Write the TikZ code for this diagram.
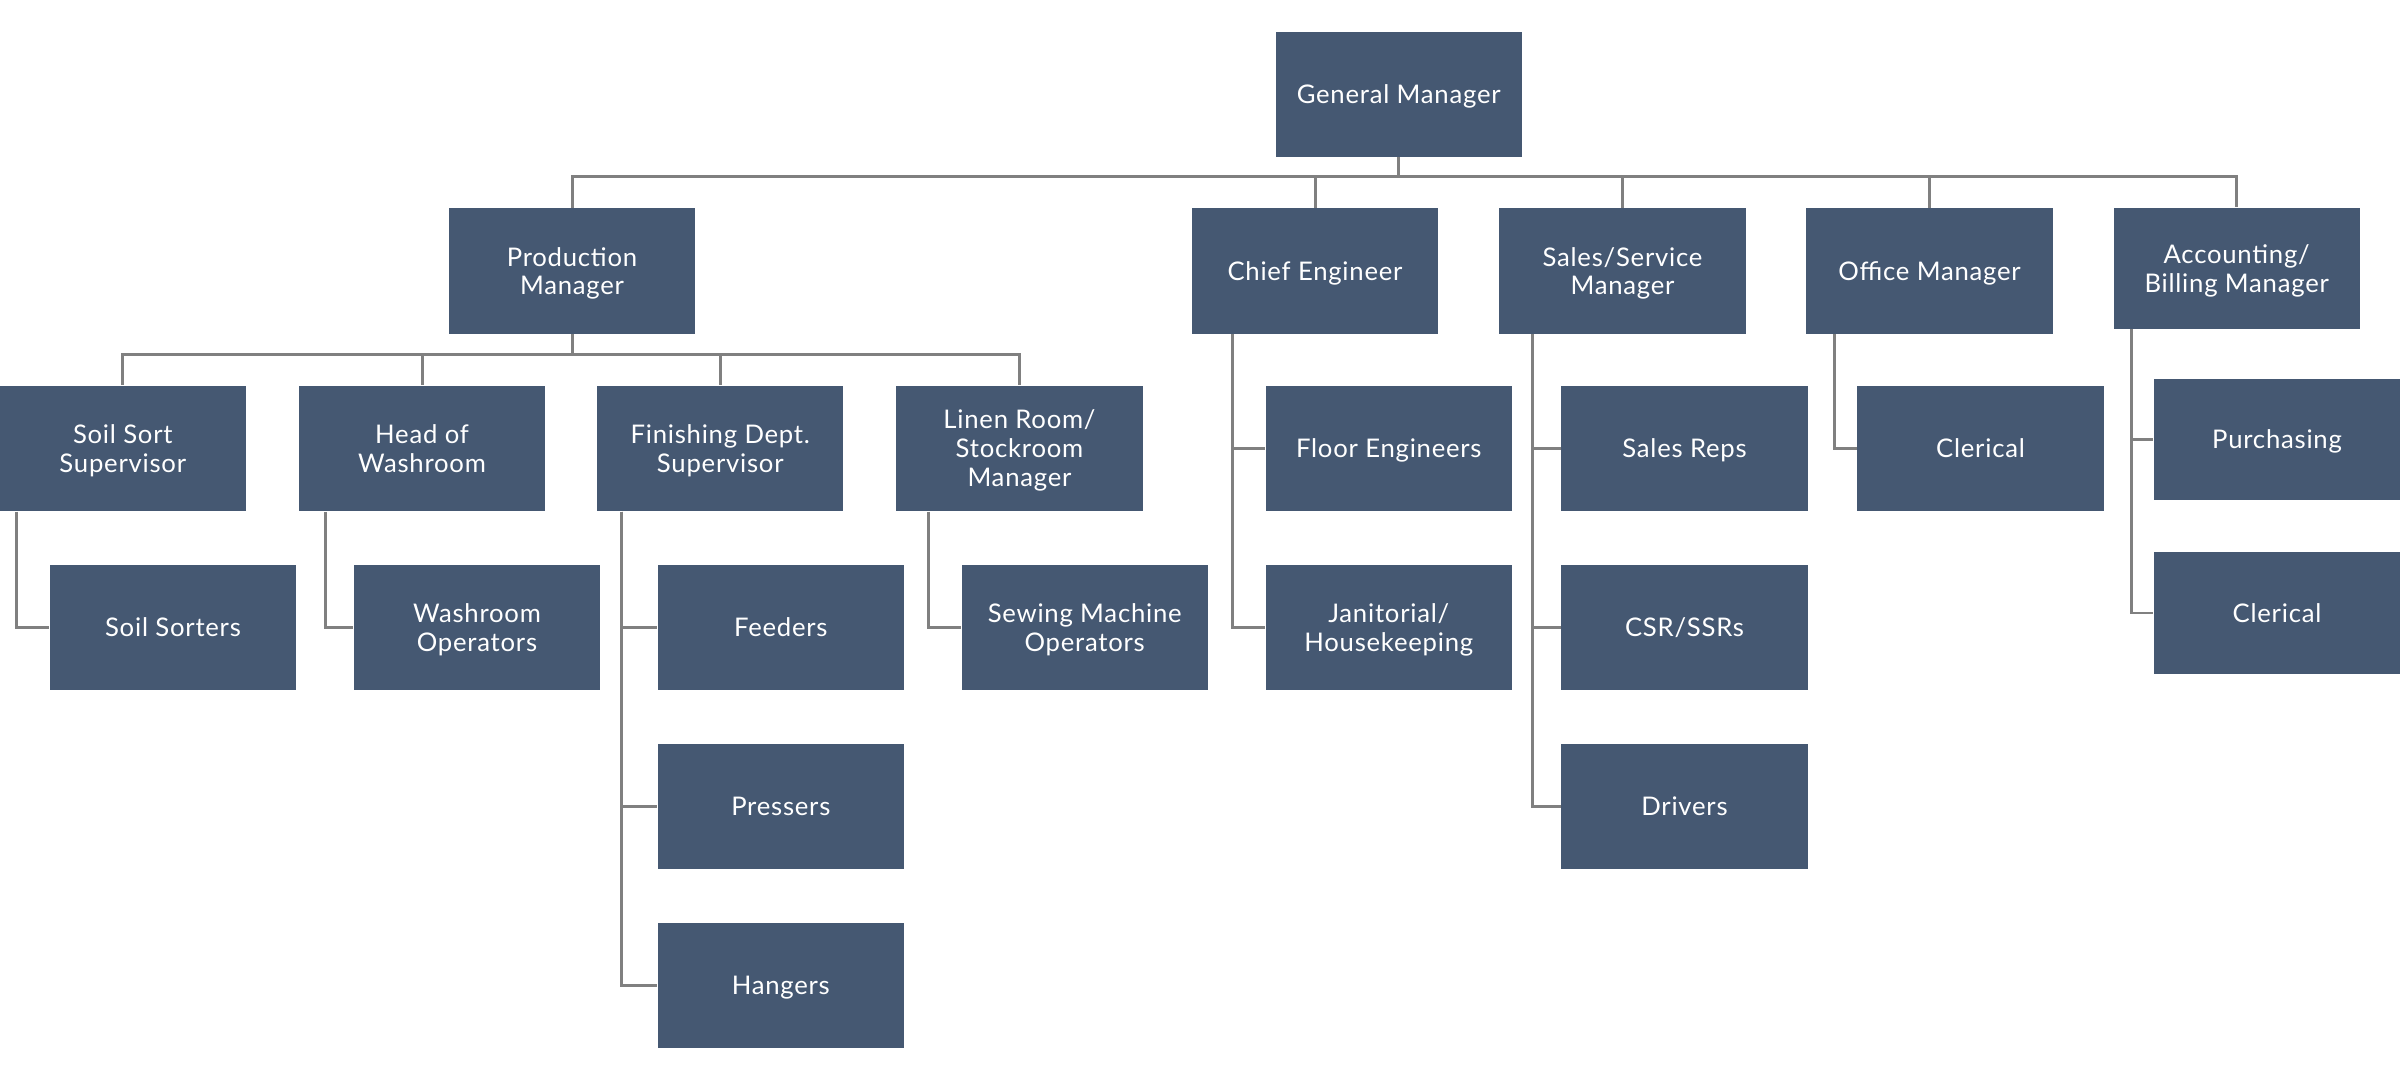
\documentclass[tikz,border=0pt]{standalone}
\usepackage{fontspec}
\setmainfont{Lato}[LetterSpace=3]
\definecolor{boxblue}{RGB}{69,88,114}
\definecolor{linegrey}{RGB}{128,128,128}

\begin{document}
\begin{tikzpicture}[x=0.01cm,y=-0.01cm]
\tikzset{post/.style={fill=boxblue,text=white,minimum width=2.46cm,minimum height=1.25cm,
    inner sep=0pt,align=center,text depth=0pt,font=\fontsize{7.3}{8.2}\selectfont},
  link/.style={draw=linegrey,line width=0.85pt}}
\useasboundingbox (0,0) rectangle (2400,1080);

\node[post] (gm) at (1398.7,94.2) {General Manager};

\node[post] (prod) at (572,271) {Production\\Manager};
\node[post] (chief) at (1315,271) {Chief Engineer};
\node[post] (sales) at (1622.5,271) {Sales/Service\\Manager};
\node[post] (office) at (1929.5,271) {Office Manager};
\node[post,minimum height=1.21cm] (acct) at (2236.7,268.2) {Accounting/\\Billing Manager};

\node[post] (soilsup) at (122.8,448.3) {Soil Sort\\Supervisor};
\node[post] (washhead) at (422,448.3) {Head of\\Washroom};
\node[post] (finish) at (720.3,448.3) {Finishing Dept.\\Supervisor};
\node[post] (linen) at (1019.5,448.3) {Linen Room/\\Stockroom\\Manager};

\node[post] (sorters) at (173,627.5) {Soil Sorters};
\node[post] (washops) at (477,627.5) {Washroom\\Operators};
\node[post] (feeders) at (780.8,627.5) {Feeders};
\node[post] (pressers) at (780.8,806.5) {Pressers};
\node[post] (hangers) at (780.8,985.5) {Hangers};
\node[post] (sewing) at (1084.7,627.5) {Sewing Machine\\Operators};

\node[post] (floor) at (1388.8,448.3) {Floor Engineers};
\node[post] (janitor) at (1388.8,627.5) {Janitorial/\\Housekeeping};
\node[post] (reps) at (1684.5,448.3) {Sales Reps};
\node[post] (csr) at (1684.5,627.5) {CSR/SSRs};
\node[post] (drivers) at (1684.5,806.5) {Drivers};
\node[post] (clerk) at (1980.5,448.3) {Clerical};
\node[post,minimum height=1.21cm] (purch) at (2277,439.5) {Purchasing};
\node[post,minimum height=1.21cm] (clerk2) at (2277,613) {Clerical};

\foreach \n in {prod,chief,sales,office,acct}
  \draw[link] (gm.south) -- ++(0,19) -| (\n.north);
\foreach \n in {soilsup,washhead,finish,linen}
  \draw[link] (prod.south) -- ++(0,19.8) -| (\n.north);
\foreach \p/\c/\dx in {soilsup/sorters/17.7,washhead/washops/27,finish/feeders/25,
    finish/pressers/25,finish/hangers/25,linen/sewing/32.6,chief/floor/41,chief/janitor/41,
    sales/reps/34,sales/csr/34,sales/drivers/34,office/clerk/28.3,acct/purch/18.3,acct/clerk2/18.3}
  \draw[link] (\p.south west) ++(\dx,0) |- (\c.west);

\end{tikzpicture}
\end{document}
